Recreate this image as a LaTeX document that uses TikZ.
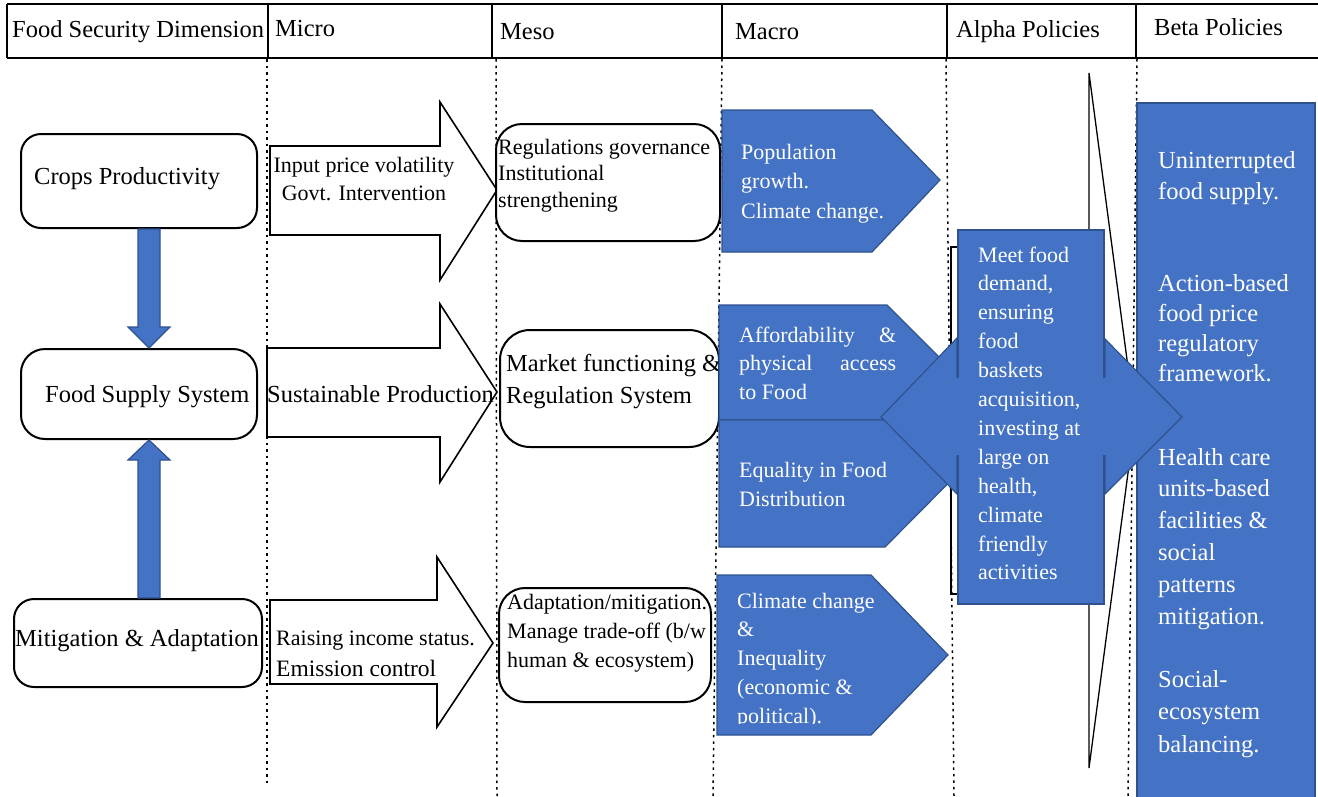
\documentclass[tikz,border=0pt]{standalone}
\usepackage{fontspec}
\setmainfont{Liberation Serif}
\usetikzlibrary{calc}
\definecolor{cblue}{HTML}{4472C4}
\definecolor{cedge}{HTML}{2F528F}
\newcommand\mlines[2][l]{\begin{tabular}[t]{@{}#1@{}}#2\end{tabular}}
\newcommand\fbig{\fontsize{24.5}{32}\selectfont}
\newcommand\fsm{\fontsize{22}{29}\selectfont}
\tikzset{
  hdr/.style={line width=1.5pt},
  sepline/.style={line width=1.5pt, dash pattern=on 2.5pt off 4pt},
  rbox/.style={draw, line width=2pt, rounded corners=#1, inner sep=0pt, fill=white},
  btext/.style={anchor=base west, inner sep=0pt},
  wtext/.style={anchor=base west, inner sep=0pt, text=white},
  bshape/.style={fill=cblue, draw=cedge, line width=1.2pt, line join=miter},
  warrow/.style={draw, line width=1.6pt, fill=white, line join=miter},
  thinblack/.style={draw, line width=1.3pt}
}
\begin{document}
\begin{tikzpicture}[x=1pt,y=-1pt]
\useasboundingbox (0,0) rectangle (1318,796);
\clip (0,0) rectangle (1318,796);

% ---------- header ----------
\draw[hdr] (7,4) -- (1318,4);
\draw[hdr] (7,58) -- (1318,58);
\foreach \x in {7,268,492,722,947,1136} \draw[hdr] (\x,4) -- (\x,58);
\node[btext, font=\fbig] (h1) at (12,37) {Food Security Dimension};
\node[btext, font=\fbig] (h2) at (275,36) {Micro};
\node[btext, font=\fbig] (h3) at (500,39) {Meso};
\node[btext, font=\fbig] (h4) at (735,39) {Macro};
\node[btext, font=\fbig] (h5) at (956,37) {Alpha Policies};
\node[btext, font=\fbig] (h6) at (1154,35) {Beta Policies};

% ---------- dotted column separators ----------
\draw[sepline] (267,59) -- (267,785);
\draw[sepline] (496,59) -- (497,796);
\draw[sepline] (722,59) -- (713,796);
\draw[sepline] (946,59) -- (954,796);
\draw[sepline] (1137,59) -- (1128,796);

% ---------- food security dimension ----------
\node[rbox=20pt, minimum width=236pt, minimum height=94pt] (crops) at (139,181) {};
\node[rbox=24pt, minimum width=236pt, minimum height=90pt] (supply) at (139,394) {};
\node[rbox=20pt, minimum width=248pt, minimum height=88pt] (mitig) at (138,643) {};
\node[btext, font=\fbig] (tcrops) at (34,184) {Crops Productivity};
\node[btext, font=\fbig] (tsupply) at (45,402) {Food Supply System};
\node[btext, font=\fbig] (tmitig) at (15,646) {Mitigation \& Adaptation};

\coordinate (dtop) at ($(crops.south)+(10,0)$);
\coordinate (dtip) at ($(supply.north)+(10,0)$);
\draw[bshape] ($(dtop)+(-11,0)$) -- ($(dtip)+(-11,-21)$) -- ($(dtip)+(-21,-21)$) -- (dtip)
  -- ($(dtip)+(21,-21)$) -- ($(dtip)+(11,-21)$) -- ($(dtop)+(11,0)$) -- cycle;
\coordinate (ubot) at ($(mitig.north)+(11,0)$);
\coordinate (utip) at ($(supply.south)+(10,0)$);
\draw[bshape] ($(ubot)+(-11,0)$) -- ($(utip)+(-11,20)$) -- ($(utip)+(-21,20)$) -- (utip)
  -- ($(utip)+(21,20)$) -- ($(utip)+(11,20)$) -- ($(ubot)+(11,0)$) -- cycle;

% ---------- micro ----------
\draw[warrow] (270,146) -- (440,146) -- (440,102) -- (497,190) -- (440,280) -- (440,235) -- (270,235) -- cycle;
\draw[warrow] (267,348) -- (440,348) -- (440,304) -- (497,392) -- (440,482) -- (440,437) -- (267,437) -- cycle;
\draw[warrow] (270,600) -- (437,600) -- (437,557) -- (493,643) -- (437,727) -- (437,684) -- (270,684) -- cycle;
\node[anchor=base, inner sep=0pt, font=\fontsize{22}{28}\selectfont] (tinput) at (364,172)
  {\mlines[c]{Input price volatility\\Govt. Intervention}};
\node[btext, font=\fbig] (tsust) at (267,402) {Sustainable Production};
\node[btext, font=\fsm] (traise) at (276,645) {Raising income status.};
\node[btext, font=\fontsize{23.5}{29}\selectfont] (temis) at (276,676) {Emission control};

% ---------- meso ----------
\node[rbox=26pt, minimum width=224pt, minimum height=117pt] (reg) at (608,182.5) {};
\node[rbox=30pt, minimum width=219pt, minimum height=117pt] (market) at (609.5,388.5) {};
\node[rbox=26pt, minimum width=212pt, minimum height=114pt] (adapt) at (605,645) {};
\node[btext, font=\fontsize{22}{26.5}\selectfont] (treg) at (498,154)
  {\mlines{Regulations governance\\Institutional\\strengthening}};
\node[btext, font=\fbig] (tmarket) at (506,371)
  {\mlines{Market functioning \&\\Regulation System}};
\begin{scope}
\clip (499,588) rectangle (711,702);
\node[btext, font=\fsm] (tadapt) at (507,609)
  {\mlines{Adaptation/mitigation.\\Manage trade-off (b/w\\human \& ecosystem)}};
\end{scope}

% ---------- macro ----------
\draw[bshape] (722,110) -- (872,110) -- (940,180) -- (872,252) -- (722,252) -- cycle;
\draw[bshape] (719,305) -- (887,305) -- (944.5,362.5) -- (887,420) -- (719,420) -- cycle;
\draw[bshape] (719,420) -- (885,420) -- (948,483.5) -- (885,547) -- (719,547) -- cycle;
\draw[bshape] (717,575) -- (871,575) -- (948,655) -- (871,735) -- (717,735) -- cycle;
\node[wtext, font=\fontsize{22}{29.5}\selectfont] (tpop) at (741,159)
  {\mlines{Population\\growth.\\Climate change.}};
\node[wtext, font=\fontsize{22}{28.5}\selectfont] (tafford) at (739,342)
  {\parbox[t]{157pt}{\fontsize{22}{28.5}\selectfont Affordability \&\linebreak physical access\linebreak to Food}};
\node[wtext, font=\fsm] (tequal) at (739,477)
  {\mlines{Equality in Food\\Distribution}};
\begin{scope}
\clip (717,575) rectangle (948,723);
\node[wtext, font=\fontsize{22}{28.8}\selectfont] (tclim) at (737,608)
  {\mlines{Climate change\\\&\\Inequality\\(economic \&\\political).}};
\end{scope}

% ---------- alpha / beta ----------
\draw[thinblack] (1089,73) -- (1135,420) -- (1089,768) -- cycle;
\draw[thinblack] (951,247) rectangle (1100,594);
\path[bshape] (1137,103) rectangle (1315,830);
\draw[bshape] (881,417) -- (957,338) -- (957,377) -- (1105,377) -- (1105,339) -- (1182,417)
  -- (1105,494) -- (1105,456) -- (957,456) -- (957,494) -- cycle;
\node[bshape, minimum width=146pt, minimum height=374pt, inner sep=0pt] (alphabox) at (1031,417) {};
\fill[cblue] (955,378) rectangle (961,455);
\fill[cblue] (1101,378) rectangle (1107,455);

\node[wtext, font=\fontsize{22}{28.9}\selectfont] (talpha) at (978,262)
  {\mlines{Meet food\\demand,\\ensuring\\food\\baskets\\acquisition,\\investing at\\large on\\health,\\climate\\friendly\\activities}};
\node[wtext, font=\fontsize{24.5}{31}\selectfont] (tb1) at (1158,168)
  {\mlines{Uninterrupted\\food supply.}};
\node[wtext, font=\fontsize{24.5}{30.3}\selectfont] (tb2) at (1158,291)
  {\mlines{Action-based\\food price\\regulatory\\framework.}};
\node[wtext, font=\fontsize{24.5}{31.8}\selectfont] (tb3) at (1158,465)
  {\mlines{Health care\\units-based\\facilities \&\\social\\patterns\\mitigation.}};
\node[wtext, font=\fontsize{24.5}{32.5}\selectfont] (tb4) at (1158,687)
  {\mlines{Social-\\ecosystem\\balancing.}};
\end{tikzpicture}
\end{document}
